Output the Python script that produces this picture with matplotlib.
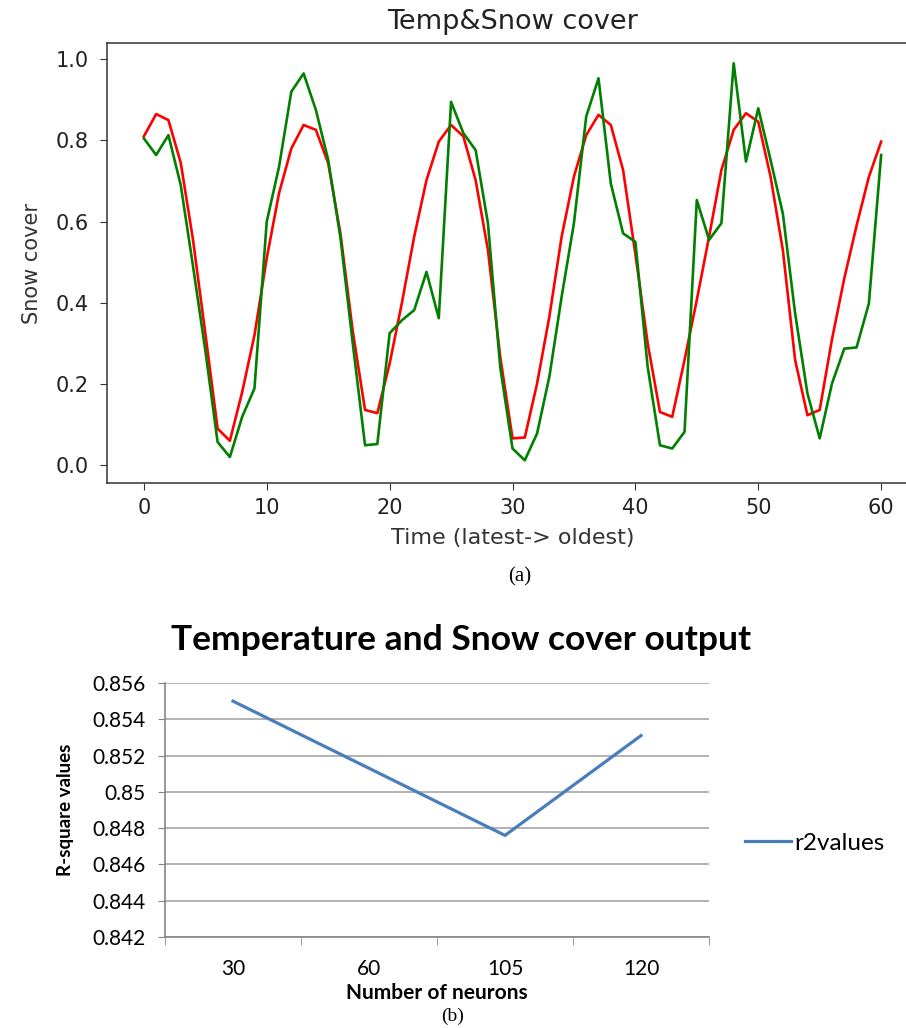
import matplotlib
matplotlib.use("Agg")
import matplotlib.pyplot as plt

# top panel: predicted (red) vs actual (green) snow cover, index 0..60
time_idx = list(range(61))
snow_red = [0.81, 0.865, 0.85, 0.745, 0.555, 0.325, 0.09, 0.06, 0.18, 0.32,
            0.51, 0.67, 0.78, 0.838, 0.826, 0.744, 0.57, 0.33, 0.136, 0.128,
            0.25, 0.40, 0.563, 0.702, 0.797, 0.838, 0.81, 0.702, 0.53, 0.267,
            0.066, 0.068, 0.201, 0.366, 0.563, 0.711, 0.813, 0.863, 0.838, 0.727,
            0.52, 0.30, 0.131, 0.119, 0.259, 0.407, 0.563, 0.727, 0.826, 0.867,
            0.846, 0.711, 0.53, 0.259, 0.123, 0.136, 0.31, 0.46, 0.59, 0.71,
            0.797]
snow_green = [0.805, 0.764, 0.813, 0.69, 0.49, 0.283, 0.057, 0.02, 0.119, 0.189,
              0.60, 0.735, 0.92, 0.965, 0.875, 0.752, 0.56, 0.30, 0.049, 0.052,
              0.325, 0.357, 0.382, 0.476, 0.362, 0.895, 0.818, 0.776, 0.596, 0.242,
              0.041, 0.012, 0.078, 0.218, 0.415, 0.596, 0.859, 0.953, 0.694, 0.571,
              0.55, 0.242, 0.049, 0.041, 0.082, 0.653, 0.555, 0.596, 0.99, 0.748,
              0.879, 0.752, 0.62, 0.374, 0.177, 0.066, 0.201, 0.287, 0.29, 0.398,
              0.764]

# bottom panel: r2 against number of neurons
neurons = ["30", "60", "105", "120"]
r2values = [0.855, 0.8513, 0.8476, 0.8531]

W, H = 906, 1028
fig = plt.figure(figsize=(W / 100, H / 100), dpi=100)

# ---- (a) ----
ax1 = fig.add_axes([107 / W, 1 - 483 / H, (918 - 107) / W, 440 / H])
ax1.plot(time_idx, snow_red, color="red", lw=1.9)
ax1.plot(time_idx, snow_green, color="green", lw=1.9)
ax1.set_xlim(-3, 63)
ax1.set_ylim(-0.044, 1.04)
ax1.set_xticks(range(0, 61, 10))
ax1.set_yticks([0, 0.2, 0.4, 0.6, 0.8, 1.0])
ax1.set_yticklabels(["0.0", "0.2", "0.4", "0.6", "0.8", "1.0"])
ax1.tick_params(labelsize=15, length=5, color="#333333", labelcolor="#222222")
ax1.tick_params(axis="y", pad=8)
ax1.tick_params(axis="x", pad=6)
for s in ax1.spines.values():
    s.set_color("#333333")
    s.set_linewidth(1.1)
ax1.set_title("Temp&Snow cover", fontsize=19.5, pad=10, color="#222222")
ax1.set_xlabel("Time (latest-> oldest)", fontsize=16, color="#333333", labelpad=7)
ax1.set_ylabel("Snow cover", fontsize=15, color="#333333", labelpad=10)

fig.text(520 / W, 1 - 577 / H, "(a)", family="Liberation Serif", fontsize=15,
         ha="center", va="center")

# ---- (b) ----
excel_font = "Lato"
ax2 = fig.add_axes([165 / W, 1 - 937 / H, (709 - 165) / W, (937 - 683) / H])
ax2.plot(neurons, r2values, color="#4a7ebb", lw=2.3, label="r2values")
ax2.set_xlim(-0.5, 3.5)
ax2.set_ylim(0.842, 0.856)
ax2.set_yticks([0.842, 0.844, 0.846, 0.848, 0.85, 0.852, 0.854, 0.856])
ax2.set_yticklabels(["0.842", "0.844", "0.846", "0.848", "0.85", "0.852", "0.854", "0.856"],
                    family=excel_font, fontsize=15)
ax2.set_xticks([0, 1, 2, 3])
ax2.set_xticklabels(neurons, family=excel_font, fontsize=15)
ax2.set_xticks([-0.5, 0.5, 1.5, 2.5, 3.5], minor=True)
ax2.tick_params(axis="x", which="major", length=0, pad=16)
ax2.tick_params(axis="x", which="minor", length=6, color="#868686")
ax2.tick_params(axis="y", length=5, color="#868686", pad=9)
ax2.grid(axis="y", color="#a6a6a6", lw=1.2)
ax2.set_axisbelow(True)
for side in ["top", "right"]:
    ax2.spines[side].set_visible(False)
for side in ["left", "bottom"]:
    ax2.spines[side].set_color("#868686")
    ax2.spines[side].set_linewidth(1.2)
ax2.set_title("Temperature and Snow cover output", family=excel_font,
              fontsize=25.5, fontweight="bold", pad=24, x=0.545)
ax2.set_xlabel("Number of neurons", family=excel_font, fontsize=15,
               fontweight="bold", labelpad=3)
ax2.set_ylabel("R-square values", family=excel_font, fontsize=13.5,
               fontweight="bold", labelpad=13)
ax2.legend(loc="center left", bbox_to_anchor=(1.066, 0.37), frameon=False,
           borderaxespad=0, borderpad=0, handlelength=1.9, handletextpad=0.15,
           prop={"family": excel_font, "size": 17.5})

fig.text(453 / W, 1 - 1016 / H, "(b)", family="Liberation Serif", fontsize=14,
         ha="center", va="center")

fig.savefig("out.png", dpi=100)
